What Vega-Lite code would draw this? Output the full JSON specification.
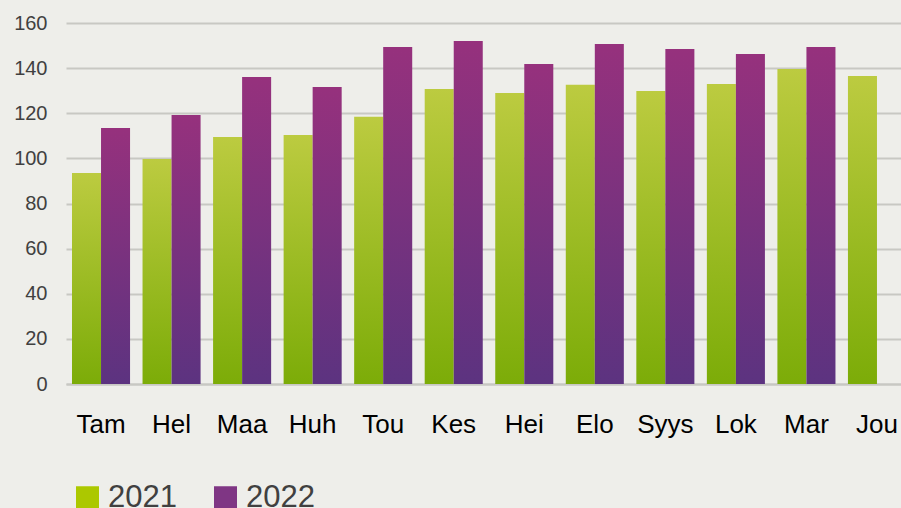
{
  "$schema": "https://vega.github.io/schema/vega-lite/v6.json",
  "width": 835,
  "height": 361,
  "autosize": "none",
  "padding": {"left": 66, "top": 23, "right": 0, "bottom": 124},
  "background": "#eeeeea",
  "config": {"view": {"stroke": null}},
  "data": {"values": [
    {"month": "Tam", "year": "2021", "value": 93.5},
    {"month": "Tam", "year": "2022", "value": 113.5},
    {"month": "Hel", "year": "2021", "value": 99.7},
    {"month": "Hel", "year": "2022", "value": 119.2},
    {"month": "Maa", "year": "2021", "value": 109.5},
    {"month": "Maa", "year": "2022", "value": 136.1},
    {"month": "Huh", "year": "2021", "value": 110.4},
    {"month": "Huh", "year": "2022", "value": 131.6},
    {"month": "Tou", "year": "2021", "value": 118.4},
    {"month": "Tou", "year": "2022", "value": 149.4},
    {"month": "Kes", "year": "2021", "value": 130.8},
    {"month": "Kes", "year": "2022", "value": 152.0},
    {"month": "Hei", "year": "2021", "value": 129.0},
    {"month": "Hei", "year": "2022", "value": 141.8},
    {"month": "Elo", "year": "2021", "value": 132.6},
    {"month": "Elo", "year": "2022", "value": 150.7},
    {"month": "Syys", "year": "2021", "value": 129.9},
    {"month": "Syys", "year": "2022", "value": 148.5},
    {"month": "Lok", "year": "2021", "value": 133.0},
    {"month": "Lok", "year": "2022", "value": 146.3},
    {"month": "Mar", "year": "2021", "value": 139.6},
    {"month": "Mar", "year": "2022", "value": 149.4},
    {"month": "Jou", "year": "2021", "value": 136.5}
  ]},
  "encoding": {
    "x": {
      "field": "month", "type": "nominal", "sort": null,
      "scale": {"range": [0, 846], "paddingInner": 0.177, "paddingOuter": 0.085},
      "axis": {
        "title": null, "labelAngle": 0, "ticks": false,
        "labelFont": "Liberation Sans", "labelFontSize": 26, "labelColor": "#000000",
        "labelPadding": 27, "domainColor": "#c8c8c3", "domainWidth": 2,
        "grid": false
      }
    },
    "xOffset": {"field": "year", "type": "nominal", "scale": {"domain": ["2021", "2022"]}},
    "y": {
      "field": "value", "type": "quantitative",
      "scale": {"domain": [0, 160], "nice": false},
      "axis": {
        "title": null, "values": [0, 20, 40, 60, 80, 100, 120, 140, 160],
        "domain": false, "ticks": false,
        "labelFont": "Liberation Sans", "labelFontSize": 20, "labelColor": "#404040",
        "labelPadding": 19, "gridColor": "#c8c8c3", "gridWidth": 2
      }
    }
  },
  "layer": [
    {
      "transform": [{"filter": "datum.year == '2021'"}],
      "mark": {"type": "bar", "color": {"gradient": "linear", "x1": 0, "y1": 0, "x2": 0, "y2": 1,
        "stops": [{"offset": 0, "color": "#bccb40"}, {"offset": 1, "color": "#7cac08"}]}}
    },
    {
      "transform": [{"filter": "datum.year == '2022'"}],
      "mark": {"type": "bar", "color": {"gradient": "linear", "x1": 0, "y1": 0, "x2": 0, "y2": 1,
        "stops": [{"offset": 0, "color": "#96317d"}, {"offset": 1, "color": "#5c3380"}]}}
    },
    {
      "mark": {"type": "bar", "opacity": 0},
      "encoding": {
        "color": {
          "field": "year", "type": "nominal",
          "scale": {"domain": ["2021", "2022"], "range": ["#acc800", "#7f3684"]},
          "legend": {
            "title": null, "orient": "none", "legendX": 6, "legendY": 459,
            "direction": "horizontal", "symbolType": "square", "symbolSize": 529,
            "symbolStrokeWidth": 0, "symbolOpacity": 1,
            "labelFont": "Liberation Sans", "labelFontSize": 31, "labelColor": "#404040",
            "labelOffset": 5, "columnPadding": 33
          }
        }
      }
    }
  ]
}
